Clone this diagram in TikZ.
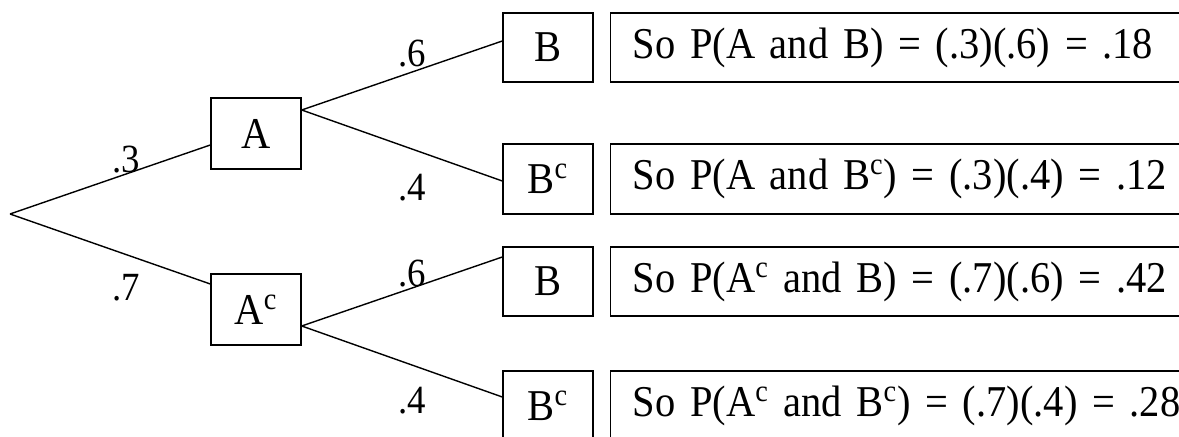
\documentclass[tikz,border=0pt]{standalone}
\usepackage{fontspec}
\setmainfont[FakeStretch=0.92]{Liberation Serif}
\begin{document}
\begin{tikzpicture}[x=0.5pt,y=-0.5pt,line width=0.7pt,
  box/.style={draw,rectangle,minimum width=45pt,minimum height=35pt,inner sep=0pt,font=\fontsize{22}{26}\selectfont},
  resbox/.style={draw,rectangle,anchor=west,minimum height=35pt,text width=300pt,inner xsep=11pt,inner ysep=0pt,align=left,font=\fontsize{22}{26}\selectfont},
  prob/.style={inner sep=0pt,font=\fontsize{20}{24}\selectfont}]
\useasboundingbox (0,0) rectangle (1179,437);
\clip (0,0) rectangle (1179,437);
\coordinate (O) at (10,214);
\node[box,minimum height=35.5pt] (A) at (256,133.5) {A};
\node[box,minimum height=35.5pt] (Ac) at (256,309.5) {A\textsuperscript{c}};
\node[box,minimum height=34.5pt] (B1) at (548,47.5) {B};
\node[box] (B2) at (548,179) {B\textsuperscript{c}};
\node[box,minimum height=34.5pt] (B3) at (548,281.5) {B};
\node[box] (B4) at (548,406) {B\textsuperscript{c}};
\node[resbox,minimum height=34.5pt] (R1) at (610,47.5) {So P(A and B) = (.3)(.6) = .18};
\node[resbox] (R2) at (610,179) {So P(A and B\textsuperscript{c}) = (.3)(.4) = .12};
\node[resbox,minimum height=34.5pt] (R3) at (610,281.5) {So P(A\textsuperscript{c} and B) = (.7)(.6) = .42};
\node[resbox] (R4) at (610,406) {So P(A\textsuperscript{c} and B\textsuperscript{c}) = (.7)(.4) = .28};
\draw (O) -- ([yshift=-5.75pt]A.west);
\draw (O) -- ([yshift=12.75pt]Ac.west);
\draw ([yshift=11.75pt]A.east) -- ([yshift=3.25pt]B1.west);
\draw ([yshift=11.75pt]A.east) -- ([yshift=-1pt]B2.west);
\draw ([yshift=-8.25pt]Ac.east) -- ([yshift=12.25pt]B3.west);
\draw ([yshift=-8.25pt]Ac.east) -- ([yshift=4.5pt]B4.west);
\node[prob] (p3) at (126,160) {.3};
\node[prob] (p7) at (126,288) {.7};
\node[prob] (p6a) at (412,54) {.6};
\node[prob] (p4a) at (412,188) {.4};
\node[prob] (p6b) at (412,274) {.6};
\node[prob] (p4b) at (412,401) {.4};
\end{tikzpicture}
\end{document}
